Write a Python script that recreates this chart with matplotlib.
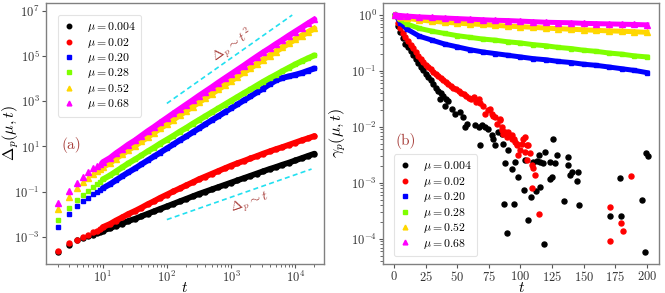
import numpy as np
import matplotlib
matplotlib.use('Agg')
import matplotlib.pyplot as plt
from matplotlib.ticker import FixedLocator, NullLocator, LogLocator

plt.rcParams['font.family'] = 'serif'
plt.rcParams['font.serif'] = ['cmr10']
plt.rcParams['mathtext.fontset'] = 'cm'
plt.rcParams['axes.formatter.use_mathtext'] = True

# ---------------- data (a) : Delta_p(mu,t), stored as log10 ----------------
t_a = [2, 3, 4, 5, 6, 7, 8, 9, 10, 13, 16, 20, 25, 32, 40, 50, 63, 79, 100, 126, 158,
       200, 251, 316, 398, 501, 631, 794, 1000, 1260, 1585, 2000, 2510, 3160, 3980,
       5010, 6310, 7940, 10000, 12600, 15800, 20000]
logD_004 = [-3.67, -3.36, -3.16, -3.07, -2.97, -2.90, -2.83, -2.77, -2.72, -2.62, -2.51, -2.41,
            -2.30, -2.20, -2.09, -1.98, -1.87, -1.76, -1.65, -1.54, -1.43, -1.32, -1.21, -1.10,
            -1.00, -0.90, -0.80, -0.70, -0.60, -0.50, -0.40, -0.30, -0.20, -0.10, 0.00, 0.09,
            0.19, 0.28, 0.38, 0.48, 0.58, 0.68]
logD_002 = [-3.63, -3.29, -3.12, -3.00, -2.90, -2.80, -2.72, -2.64, -2.57, -2.43, -2.28, -2.14,
            -1.99, -1.85, -1.71, -1.56, -1.42, -1.27, -1.13, -0.99, -0.86, -0.72, -0.59, -0.45,
            -0.33, -0.21, -0.09, 0.03, 0.15, 0.26, 0.36, 0.47, 0.57, 0.68, 0.78, 0.88,
            0.97, 1.07, 1.17, 1.27, 1.36, 1.46]
logD_020 = [-2.55, -1.99, -1.65, -1.41, -1.26, -1.12, -1.02, -0.93, -0.85, -0.67, -0.50, -0.32,
            -0.15, 0.03, 0.21, 0.38, 0.56, 0.73, 0.91, 1.09, 1.27, 1.44, 1.62, 1.80,
            1.98, 2.16, 2.33, 2.51, 2.69, 2.86, 3.04, 3.21, 3.39, 3.56, 3.75, 3.92,
            4.03, 4.10, 4.17, 4.25, 4.35, 4.45]
logD_028 = [-2.27, -1.73, -1.39, -1.14, -0.97, -0.80, -0.68, -0.56, -0.46, -0.28, -0.11, 0.07,
            0.25, 0.43, 0.60, 0.78, 0.95, 1.13, 1.30, 1.47, 1.65, 1.82, 2.00, 2.17,
            2.34, 2.51, 2.68, 2.85, 3.02, 3.19, 3.36, 3.52, 3.69, 3.86, 4.02, 4.17,
            4.33, 4.48, 4.63, 4.77, 4.90, 5.03]
logD_052 = [-1.76, -1.22, -0.85, -0.58, -0.38, -0.22, -0.10, 0.00, 0.08, 0.27, 0.46, 0.65,
            0.84, 1.03, 1.22, 1.41, 1.61, 1.80, 1.99, 2.18, 2.38, 2.57, 2.76, 2.95,
            3.14, 3.33, 3.52, 3.71, 3.90, 4.09, 4.28, 4.46, 4.65, 4.84, 5.02, 5.20,
            5.38, 5.56, 5.74, 5.90, 6.06, 6.22]
logD_068 = [-1.51, -0.97, -0.62, -0.34, -0.13, 0.03, 0.15, 0.24, 0.30, 0.49, 0.69, 0.88,
            1.08, 1.27, 1.47, 1.67, 1.86, 2.06, 2.26, 2.46, 2.65, 2.85, 3.04, 3.24,
            3.43, 3.62, 3.82, 4.01, 4.20, 4.39, 4.58, 4.78, 4.97, 5.16, 5.34, 5.53,
            5.71, 5.90, 6.08, 6.26, 6.44, 6.62]

guide2_t = [100, 9000]
guide2_y = [8.0e2, 6.5e6]
guide1_t = [100, 18000]
guide1_y = [5.8e-3, 1.0]

# ---------------- data (b) : gamma_p(mu,t), stored as log10 ----------------
t_b = [1, 5, 10, 20, 30, 40, 50, 60, 70, 80, 90, 100, 110, 120, 130, 140, 150, 160,
       170, 180, 190, 200]
logG_020 = [0.0, -0.14, -0.25, -0.38, -0.45, -0.52, -0.57, -0.62, -0.66, -0.69, -0.72, -0.75,
            -0.78, -0.80, -0.83, -0.85, -0.88, -0.90, -0.93, -0.96, -0.99, -1.03]
logG_028 = [0.0, -0.08, -0.16, -0.24, -0.29, -0.33, -0.37, -0.40, -0.43, -0.45, -0.48, -0.50,
            -0.53, -0.55, -0.58, -0.60, -0.63, -0.65, -0.68, -0.70, -0.73, -0.75]
logG_052 = [0.0, -0.03, -0.06, -0.09, -0.11, -0.13, -0.145, -0.16, -0.17, -0.185, -0.20, -0.21,
            -0.22, -0.235, -0.245, -0.255, -0.265, -0.275, -0.285, -0.29, -0.30, -0.31]
logG_068 = [0.0, -0.01, -0.02, -0.035, -0.045, -0.055, -0.065, -0.075, -0.085, -0.095, -0.10,
            -0.11, -0.12, -0.13, -0.135, -0.14, -0.15, -0.155, -0.16, -0.165, -0.17, -0.177]

# mu = 0.02 : smooth part then scattered points
t_red = list(range(1, 62, 2)) + [63, 65, 66.8, 68, 70.7, 72.1, 74, 76, 77.3, 78.6, 80, 81.3,
        83.9, 83.9, 85.2, 85.2, 86.5, 87.9, 89.2, 90.5, 90.5, 93.2, 93.2, 94.5, 95.8, 97.1,
        97.1, 98.4, 99.8, 101.1, 102.4, 103.7, 103.7, 105.1, 105.1, 106.3, 107.7, 109, 109,
        110.3, 111.6, 114.3, 171, 170.5, 179.5, 180.8, 187.6]
logG_red = [0.0, -0.15, -0.24, -0.32, -0.40, -0.46, -0.53, -0.59, -0.66, -0.73, -0.79, -0.84,
            -0.89, -0.93, -0.97, -1.02, -1.06, -1.09, -1.12, -1.16, -1.19, -1.23, -1.27, -1.30,
            -1.33, -1.36, -1.39, -1.41, -1.44, -1.48, -1.50,
            -1.47, -1.55, -1.50, -1.58, -1.62, -1.77, -1.70, -1.68, -1.77, -1.80, -1.82, -1.94,
            -1.86, -1.885, -2.06, -2.00, -2.12, -2.09, -2.18, -2.09, -2.12, -2.21, -2.15, -2.21,
            -2.27, -2.30, -2.33, -2.50, -2.41, -2.30, -2.21, -2.18, -2.44, -2.33, -2.59, -2.33,
            -2.47, -2.68, -3.09, -2.74, -2.86, -3.55, -3.43, -4.03, -3.71, -3.86, -2.87]

# mu = 0.004 : smooth part then scattered points
t_blk = list(range(1, 44, 2)) + [36.4, 40.4, 45.7, 48.3, 52.3, 54.9, 57.5, 56.2, 64.1, 66.8,
        69.4, 72.1, 74.7, 68.1, 77.3, 78.6, 80, 82.6, 85.2, 86.5, 90.5, 87.9, 95.8, 93.2,
        98.4, 103.7, 110.3, 113, 114.3, 115.6, 119.6, 118.2, 123.5, 126.1, 127.5, 128.8, 138,
        139.4, 140.7, 138, 144.7, 145.9, 124.9, 123.5, 115.6, 112.4, 108.2, 102.9, 87.1, 94.5,
        105.6, 89.2, 119, 134.1, 146.5, 170.5, 179.5, 178.4, 196.4, 198.7, 199.5, 200.6]
logG_blk = [0.0, -0.20, -0.31, -0.42, -0.51, -0.58, -0.65, -0.71, -0.78, -0.86, -0.93, -0.99,
            -1.05, -1.11, -1.17, -1.24, -1.30, -1.35, -1.40, -1.45, -1.50, -1.54,
            -1.50, -1.62, -1.68, -1.77, -1.74, -1.83, -1.94, -2.00, -1.97, -2.00,
            -1.97, -2.00, -2.03, -2.33, -2.15, -2.21, -2.33, -2.09, -2.12, -2.30, -2.41, -2.64,
            -2.62, -2.75, -2.90, -2.59, -2.62, -2.61, -2.51, -2.62, -2.44, -2.65, -2.62, -2.21,
            -2.65, -2.50, -2.53, -2.86, -2.80, -2.68, -2.96, -2.80, -2.90, -2.93, -3.07, -3.15,
            -3.25, -3.12, -3.37, -3.37, -3.67, -3.89, -4.09, -3.33, -3.40, -3.59, -3.60, -2.92,
            -3.31, -4.23, -2.47, -2.52]

mu_labels = ['0.004', '0.02', '0.20', '0.28', '0.52', '0.68']
colors = ['black', '#ff0000', '#0000ff', '#7fff00', '#ffd700', '#ff00ff']
markers = ['o', 'o', 's', 's', '^', '^']
msizes = [3.6, 3.6, 3.3, 3.3, 3.8, 3.8]

spine_col = '#808080'
note_col = '#a8403c'

fig = plt.figure(figsize=(6.65, 2.93), dpi=100)
ax1 = fig.add_axes([0.069, 0.1, 0.418, 0.891])
ax2 = fig.add_axes([0.5755, 0.1, 0.4162, 0.891])

leg_kw = dict(fontsize=8.5, numpoints=1, handlelength=1.0, handletextpad=1.0,
              labelspacing=0.12, borderaxespad=0.0, borderpad=0.45, markerscale=0.9)

# ---- panel (a)
series_a = [logD_004, logD_002, logD_020, logD_028, logD_052, logD_068]
ta = np.array(t_a)
for i, ly in enumerate(series_a):
    y = 10 ** np.array(ly)
    ax1.plot(ta[8:], y[8:], '-', color=colors[i], lw=4.2, solid_capstyle='round', zorder=2 + i)
    ax1.plot(ta, y, ls='none', marker=markers[i], ms=msizes[i], color=colors[i],
             mec=colors[i], label=r'$\mu = %s$' % mu_labels[i], zorder=2 + i)

ax1.plot(guide2_t, guide2_y, '--', color='#22e0f0', lw=1.2, dashes=(3, 2))
ax1.plot(guide1_t, guide1_y, '--', color='#22e0f0', lw=1.2, dashes=(3, 2))
ax1.text(1050, 3.0e5, r'$\Delta_p \sim t^2$', color=note_col, fontsize=10, rotation=35,
         ha='center', va='center')
ax1.text(2000, 3.1e-2, r'$\Delta_p \sim t$', color=note_col, fontsize=10, rotation=19,
         ha='center', va='center')
ax1.text(3.3, 12, '(a)', color=note_col, fontsize=11, ha='center', va='center')

ax1.set_xscale('log')
ax1.set_yscale('log')
ax1.set_xlim(1.3, 2.8e4)
ax1.set_ylim(6.5e-5, 2.3e7)
ax1.yaxis.set_major_locator(FixedLocator([1e-3, 1e-1, 1e1, 1e3, 1e5, 1e7]))
ax1.yaxis.set_minor_locator(NullLocator())
ax1.xaxis.set_major_locator(LogLocator(base=10, numticks=10))
ax1.set_xlabel(r'$t$', fontsize=11)
ax1.set_ylabel(r'$\Delta_p(\mu,t)$', fontsize=11.5)
ax1.xaxis.set_label_coords(0.5, -0.068)
ax1.yaxis.set_label_coords(-0.088, 0.5)
leg1 = ax1.legend(loc='upper left', bbox_to_anchor=(0.043, 0.953), **leg_kw)

# ---- panel (b)
ax2.plot(t_blk, 10 ** np.array(logG_blk), ls='none', marker='o', ms=3.6, color='black',
         label=r'$\mu = %s$' % mu_labels[0], zorder=3)
ax2.plot(t_red, 10 ** np.array(logG_red), ls='none', marker='o', ms=3.6, color='#ff0000',
         label=r'$\mu = %s$' % mu_labels[1], zorder=4)
series_b = [logG_020, logG_028, logG_052, logG_068]
for j, ly in enumerate(series_b):
    i = j + 2
    y = 10 ** np.array(ly)
    ax2.plot(t_b, y, '-', color=colors[i], lw=3.6, zorder=5 + j)
    ax2.plot(t_b, y, ls='none', marker=markers[i], ms=msizes[i], color=colors[i],
             label=r'$\mu = %s$' % mu_labels[i], zorder=5 + j)

ax2.text(9.5, 5.7e-3, '(b)', color=note_col, fontsize=11, ha='center', va='center')
ax2.set_yscale('log')
ax2.set_xlim(-9, 210)
ax2.set_ylim(3.6e-5, 1.66)
ax2.set_xticks([0, 25, 50, 75, 100, 125, 150, 175, 200])
ax2.yaxis.set_major_locator(FixedLocator([1e-4, 1e-3, 1e-2, 1e-1, 1e0]))
ax2.yaxis.set_minor_locator(LogLocator(base=10, subs=np.arange(2, 10), numticks=20))
ax2.set_xlabel(r'$t$', fontsize=11)
ax2.set_ylabel(r'$\gamma_p(\mu,t)$', fontsize=11.5)
ax2.xaxis.set_label_coords(0.5, -0.068)
ax2.yaxis.set_label_coords(-0.125, 0.5)
leg2 = ax2.legend(loc='lower left', bbox_to_anchor=(0.041, 0.03), **leg_kw)

for ax in (ax1, ax2):
    for s in ax.spines.values():
        s.set_color(spine_col)
        s.set_linewidth(1.0)
    ax.tick_params(which='both', direction='out', color='#555555', labelcolor='#333333',
                   labelsize=9, pad=1.2)
    ax.tick_params(which='major', length=3.2, width=0.8)
    ax.tick_params(which='minor', length=2.0, width=0.6)
for leg in (leg1, leg2):
    leg.get_frame().set_edgecolor('#dddddd')
    leg.get_frame().set_linewidth(0.8)

fig.savefig('out.png', dpi=100)
